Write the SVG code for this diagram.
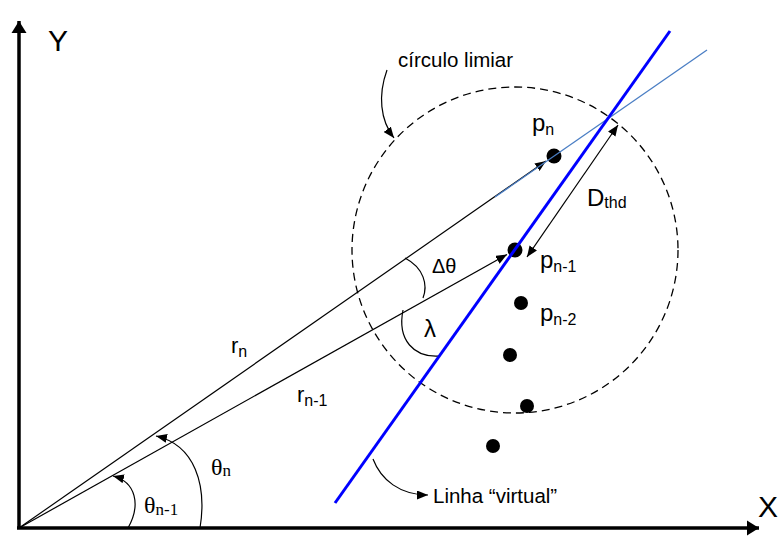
<svg xmlns="http://www.w3.org/2000/svg" width="779" height="539" viewBox="0 0 779 539">
<style>
.t{font-family:"Liberation Sans",Arial,sans-serif;fill:#000}
.s{font-family:"Liberation Serif","Times New Roman",serif;fill:#000}
.ln{fill:none;stroke:#000;stroke-width:1.2}
.dot{fill:#000}
</style>
<defs>
<marker id="ah" markerUnits="userSpaceOnUse" markerWidth="11" markerHeight="9" refX="11" refY="4.5" orient="auto-start-reverse" viewBox="0 0 11 9">
<path d="M0,0 L11,4.5 L0,9 z" fill="#000"/>
</marker>
<marker id="axh" markerUnits="userSpaceOnUse" markerWidth="16" markerHeight="16" refX="12" refY="8" orient="auto" viewBox="0 0 16 16">
<path d="M0,0.5 L12,8 L0,15.5 z" fill="#000"/>
</marker>
</defs>

<g id="axes">
<line x1="19" y1="528" x2="19" y2="21" stroke="#000" stroke-width="3.5" marker-end="url(#axh)"/>
<line x1="17" y1="528" x2="759" y2="528" stroke="#000" stroke-width="3.5" marker-end="url(#axh)"/>
<text class="t" x="48" y="51" font-size="30">Y</text>
<text class="t" x="758" y="517" font-size="30">X</text>
</g>

<g id="circle">
<circle cx="515" cy="250" r="163" fill="none" stroke="#000" stroke-width="1.3" stroke-dasharray="8,5"/>
</g>

<g id="connectors">
<line class="ln" x1="19" y1="528" x2="546" y2="161" marker-end="url(#ah)"/>
<line class="ln" x1="19" y1="528" x2="507" y2="254.5" marker-end="url(#ah)"/>
<line class="ln" x1="527" y1="257" x2="618" y2="125" marker-start="url(#ah)" marker-end="url(#ah)"/>
<path class="ln" d="M200,528 C207,485 195,445 156,436" marker-end="url(#ah)"/>
<path class="ln" d="M128,528 C141,505 136,482 113,476" marker-end="url(#ah)"/>
<path class="ln" d="M405,258 C424,268 428,285 423,298"/>
<path class="ln" d="M403,310 C397,340 414,358 440,356"/>
<path class="ln" d="M387,70 C378,95 380,120 394,138" marker-end="url(#ah)"/>
<path class="ln" d="M373,459 C381,480 400,495 428,495" marker-end="url(#ah)"/>
</g>

<g id="points">
<circle class="dot" cx="554" cy="156" r="7.5"/>
<circle class="dot" cx="515" cy="250" r="7.5"/>
<circle class="dot" cx="521" cy="303" r="7"/>
<circle class="dot" cx="510" cy="355" r="7"/>
<circle class="dot" cx="527" cy="406" r="7"/>
<circle class="dot" cx="493" cy="446" r="7"/>
</g>

<g id="lines">
<line x1="495" y1="197" x2="707" y2="50" stroke="#4A7EC4" stroke-width="1.3"/>
<line x1="335" y1="503" x2="670" y2="31" stroke="#0000FF" stroke-width="3"/>
</g>

<g id="labels">
<text class="t" x="398" y="67" font-size="20.5">círculo limiar</text>
<text class="t" x="532" y="131" font-size="24">p<tspan font-size="16" dy="4">n</tspan></text>
<text class="t" x="540" y="268" font-size="24">p<tspan font-size="16" dy="4">n-1</tspan></text>
<text class="t" x="540" y="321" font-size="24">p<tspan font-size="16" dy="4">n-2</tspan></text>
<text class="t" x="587" y="206" font-size="24">D<tspan font-size="16" dy="2">thd</tspan></text>
<text class="t" x="432" y="273" font-size="20">Δθ</text>
<text class="t" x="424" y="337" font-size="24">λ</text>
<text class="t" x="231" y="353" font-size="22">r<tspan font-size="16" dy="4">n</tspan></text>
<text class="t" x="297" y="402" font-size="22">r<tspan font-size="16" dy="4">n-1</tspan></text>
<text class="s" x="211" y="475" font-size="24">θ<tspan font-size="17" dy="1">n</tspan></text>
<text class="s" x="144" y="513" font-size="24">θ<tspan font-size="17" dy="2">n-1</tspan></text>
<text class="t" x="433" y="503" font-size="20.5">Linha “virtual”</text>
</g>
</svg>
